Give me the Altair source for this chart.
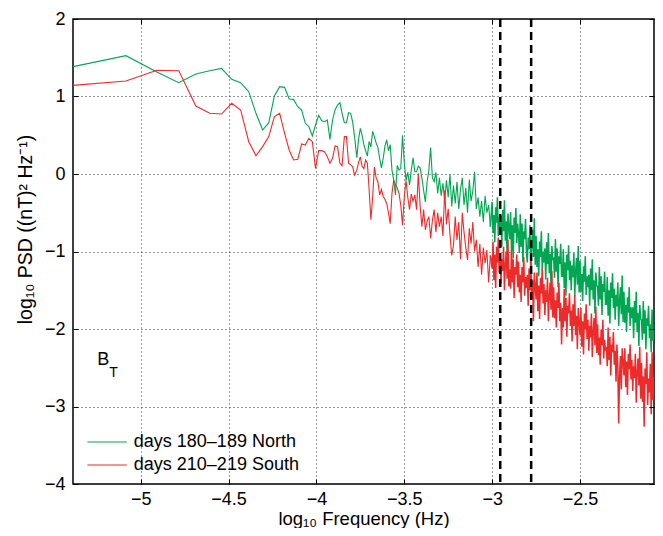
import altair as alt
import pandas as pd

# ---------------- data (log10 values) ----------------
freq_low = [-5.385, -5.084, -4.908, -4.783, -4.686, -4.607, -4.540, -4.482, -4.431, -4.385,
            -4.344, -4.306, -4.271, -4.239, -4.209, -4.181, -4.155, -4.130, -4.106, -4.084,
            -4.063, -4.043, -4.023, -4.005, -3.987, -3.970, -3.954, -3.938, -3.923, -3.908,
            -3.894, -3.880, -3.866, -3.854, -3.841, -3.829, -3.817, -3.805, -3.794, -3.783]
green_low = [1.385, 1.527, 1.316, 1.178, 1.290, 1.333, 1.363, 1.222, 1.178, 1.062,
             0.783, 0.568, 0.662, 1.007, 1.127, 1.118, 0.968, 0.963, 0.869, 0.826,
             0.654, 0.611, 0.490, 0.632, 0.757, 0.688, 0.675, 0.697, 0.447, 0.697,
             0.826, 0.890, 0.920, 0.783, 0.662, 0.662, 0.791, 0.783, 0.675, 0.482]
red_low = [1.144, 1.200, 1.338, 1.333, 0.877, 0.783, 0.774, 0.912, 0.826, 0.417,
           0.236, 0.353, 0.482, 0.740, 0.783, 0.525, 0.310, 0.181, 0.189, 0.387,
           0.374, 0.460, 0.417, 0.073, 0.301, 0.301, 0.288, 0.224, 0.138, 0.202,
           0.361, 0.353, 0.138, 0.108, 0.482, 0.482, 0.138, 0.117, 0.095, -0.013]

freq_mid = [-3.77, -3.76, -3.75, -3.74, -3.73, -3.72, -3.71, -3.70, -3.69, -3.68,
            -3.67, -3.66, -3.65, -3.64, -3.63, -3.62, -3.61, -3.60, -3.59, -3.58,
            -3.57, -3.56, -3.55, -3.54, -3.53, -3.52, -3.51, -3.50, -3.49, -3.48,
            -3.47, -3.46, -3.45, -3.44, -3.43, -3.42, -3.41, -3.40, -3.39, -3.38,
            -3.37, -3.36, -3.35, -3.34, -3.33, -3.32, -3.31, -3.30, -3.29, -3.28,
            -3.27, -3.26, -3.25, -3.24, -3.23, -3.22, -3.21, -3.20, -3.19, -3.18,
            -3.17, -3.16, -3.15, -3.14, -3.13, -3.12, -3.11, -3.10, -3.09, -3.08,
            -3.07, -3.06, -3.05, -3.04, -3.03, -3.02, -3.01]
green_mid = [0.21, 0.45, 0.59, 0.50, 0.38, 0.30, 0.23, 0.42, 0.35, 0.55,
             0.48, 0.40, 0.34, 0.20, 0.08, 0.20, 0.36, 0.44, 0.30, 0.38,
             0.05, -0.08, -0.27, 0.11, 0.05, 0.07, 0.50, 0.15, -0.08, 0.02,
             -0.14, 0.05, 0.21, 0.03, 0.03, 0.10, 0.08, -0.05, -0.21, -0.36,
             -0.10, 0.05, 0.34, -0.05, -0.10, 0.02, -0.25, -0.05, -0.28, -0.12,
             -0.35, -0.08, -0.30, 0.00, -0.42, -0.15, -0.38, -0.10, -0.45, -0.20,
             -0.05, -0.40, -0.18, -0.50, -0.07, -0.35, -0.22, 0.03, -0.45, -0.30,
             -0.55, -0.35, -0.62, -0.28, -0.50, -0.40, -0.68]
red_mid = [0.05, 0.15, 0.22, 0.10, 0.07, 0.18, 0.14, -0.20, -0.59, -0.30,
           0.09, -0.05, -0.10, -0.27, -0.20, -0.29, -0.33, -0.38, -0.50, -0.64,
           -0.25, -0.08, -0.14, -0.18, -0.25, -0.40, -0.66, -0.30, -0.08, -0.30,
           -0.46, -0.26, -0.35, -0.27, -0.46, 0.01, -0.40, -0.68, -0.46, -0.72,
           -0.61, -0.55, -0.83, -0.60, -0.46, -0.75, -0.50, -0.68, -0.55, -0.80,
           -0.21, -0.65, -0.45, -0.78, -1.05, -0.92, -0.55, -0.85, -0.62, -1.10,
           -0.50, -0.75, -0.95, -1.11, -0.70, -0.90, -0.62, -1.00, -0.85, -1.20,
           -0.90, -1.30, -0.95, -1.15, -0.98, -1.40, -1.05]

freq_high = [-3.000, -2.995, -2.990, -2.985, -2.980, -2.975, -2.970, -2.965, -2.960, -2.955,
             -2.950, -2.945, -2.940, -2.935, -2.930, -2.925, -2.920, -2.915, -2.910, -2.905,
             -2.900, -2.895, -2.890, -2.885, -2.880, -2.875, -2.870, -2.865, -2.860, -2.855,
             -2.850, -2.845, -2.840, -2.835, -2.830, -2.825, -2.820, -2.815, -2.810, -2.805,
             -2.800, -2.795, -2.790, -2.785, -2.780, -2.775, -2.770, -2.765, -2.760, -2.755,
             -2.750, -2.745, -2.740, -2.735, -2.730, -2.725, -2.720, -2.715, -2.710, -2.705,
             -2.700, -2.695, -2.690, -2.685, -2.680, -2.675, -2.670, -2.665, -2.660, -2.655,
             -2.650, -2.645, -2.640, -2.635, -2.630, -2.625, -2.620, -2.615, -2.610, -2.605,
             -2.600, -2.595, -2.590, -2.585, -2.580, -2.575, -2.570, -2.565, -2.560, -2.555,
             -2.550, -2.545, -2.540, -2.535, -2.530, -2.525, -2.520, -2.515, -2.510, -2.505,
             -2.500, -2.495, -2.490, -2.485, -2.480, -2.475, -2.470, -2.465, -2.460, -2.455,
             -2.450, -2.445, -2.440, -2.435, -2.430, -2.425, -2.420, -2.415, -2.410, -2.405,
             -2.400, -2.395, -2.390, -2.385, -2.380, -2.375, -2.370, -2.365, -2.360, -2.355,
             -2.350, -2.345, -2.340, -2.335, -2.330, -2.325, -2.320, -2.315, -2.310, -2.305,
             -2.300, -2.295, -2.290, -2.285, -2.280, -2.275, -2.270, -2.265, -2.260, -2.255,
             -2.250, -2.245, -2.240, -2.235, -2.230, -2.225, -2.220, -2.215, -2.210, -2.205,
             -2.200, -2.195, -2.190, -2.185, -2.180, -2.175, -2.170, -2.165, -2.160, -2.155,
             -2.150, -2.145, -2.140, -2.135, -2.130, -2.125, -2.120, -2.115, -2.110, -2.105,
             -2.100, -2.095, -2.090, -2.085, -2.080]
green_high = [-0.36, -0.76, -0.53, -0.88, -0.43, -0.63, -0.30, -0.80, -0.56, -0.70,
              -0.54, -0.94, -0.46, -0.74, -0.34, -0.86, -0.61, -1.04, -0.51, -0.68,
              -0.84, -0.49, -0.99, -0.66, -1.09, -0.56, -0.76, -0.44, -0.89, -0.64,
              -0.77, -1.02, -0.52, -0.94, -0.64, -1.14, -0.74, -0.84, -0.58, -1.00,
              -1.14, -0.82, -0.97, -0.66, -1.22, -0.90, -0.72, -1.07, -0.57, -1.17,
              -0.80, -1.20, -0.97, -1.32, -0.87, -1.07, -0.74, -1.24, -1.00, -1.14,
              -0.96, -1.36, -0.88, -1.16, -0.76, -1.28, -1.03, -1.46, -0.93, -1.10,
              -1.09, -1.34, -0.84, -1.26, -0.96, -1.46, -1.06, -1.16, -0.90, -1.32,
              -1.32, -0.97, -1.47, -1.14, -1.57, -1.04, -1.24, -0.92, -1.37, -1.12,
              -1.50, -1.18, -1.33, -1.02, -1.58, -1.26, -1.08, -1.43, -0.93, -1.53,
              -1.12, -1.52, -1.29, -1.64, -1.19, -1.39, -1.06, -1.56, -1.32, -1.46,
              -1.30, -1.70, -1.22, -1.50, -1.10, -1.62, -1.37, -1.80, -1.27, -1.44,
              -1.45, -1.70, -1.20, -1.62, -1.32, -1.82, -1.42, -1.52, -1.26, -1.68,
              -1.68, -1.33, -1.83, -1.50, -1.93, -1.40, -1.60, -1.28, -1.73, -1.48,
              -1.88, -1.56, -1.71, -1.40, -1.96, -1.64, -1.46, -1.81, -1.31, -1.91,
              -1.52, -1.92, -1.69, -2.04, -1.59, -1.79, -1.46, -1.96, -1.72, -1.86,
              -1.72, -2.12, -1.64, -1.92, -1.52, -2.04, -1.79, -2.22, -1.69, -1.86,
              -1.89, -2.14, -1.64, -2.06, -1.76, -2.26, -1.86, -1.96, -1.70, -2.12,
              -1.94, -2.30, -1.75, -2.15, -2.02]
red_high = [-1.22, -0.87, -1.37, -1.04, -1.47, -0.94, -1.14, -0.82, -1.27, -1.02,
            -1.42, -1.10, -1.25, -0.94, -1.50, -1.18, -1.00, -1.35, -0.85, -1.45,
            -1.23, -1.48, -0.98, -1.40, -1.10, -1.60, -1.20, -1.30, -1.04, -1.46,
            -1.13, -1.53, -1.30, -1.65, -1.20, -1.40, -1.07, -1.57, -1.33, -1.47,
            -1.30, -1.70, -1.22, -1.50, -1.10, -1.62, -1.37, -1.90, -1.27, -1.44,
            -1.62, -1.27, -1.77, -1.44, -1.87, -1.34, -1.54, -1.22, -1.67, -1.42,
            -1.82, -1.50, -1.65, -1.34, -1.90, -1.58, -1.40, -1.75, -1.25, -1.85,
            -1.46, -1.86, -1.63, -1.98, -1.53, -1.73, -1.40, -1.90, -1.66, -2.20,
            -1.73, -1.98, -1.48, -1.90, -1.60, -2.10, -1.70, -1.80, -1.54, -1.96,
            -1.76, -2.16, -1.68, -1.96, -1.56, -2.08, -1.83, -2.26, -1.73, -1.90,
            -2.08, -1.73, -2.23, -1.90, -2.33, -1.80, -2.00, -1.68, -2.13, -1.88,
            -2.28, -1.96, -2.11, -1.80, -2.36, -2.04, -1.86, -2.21, -1.71, -2.31,
            -1.94, -2.34, -2.11, -2.46, -2.01, -2.21, -1.88, -2.38, -2.14, -2.28,
            -2.23, -2.48, -1.98, -2.40, -2.10, -2.60, -2.20, -2.30, -2.04, -2.46,
            -2.28, -2.68, -2.20, -2.48, -3.22, -2.60, -2.35, -2.78, -2.25, -2.42,
            -2.60, -2.25, -2.75, -2.42, -2.85, -2.32, -2.52, -2.20, -2.65, -2.40,
            -2.80, -2.48, -2.63, -2.32, -2.95, -2.56, -2.38, -2.73, -2.23, -2.90,
            -2.44, -2.94, -2.61, -3.26, -2.51, -2.71, -2.30, -2.98, -2.64, -2.82,
            -2.45, -3.10, -2.30, -2.92, -2.62]

cutoff_freqs = [-2.954, -2.778]
x_ticks = [-5, -4.5, -4, -3.5, -3, -2.5]
y_ticks = [-4, -3, -2, -1, 0, 1, 2]
series_names = ["days 180\u2013189 North", "days 210\u2013219 South"]
series_colors = ["#00A651", "#EE2B2B"]

# legend / annotation anchors (data coordinates)
legend_x0, legend_x1, legend_text_x = -5.303, -5.079, -5.039
legend_y = [-3.458, -3.755]
label_x, label_y = -5.247, -2.465

# ---------------- chart ----------------
FONT = "Liberation Sans"
W, H = 581, 465
xs = alt.Scale(domain=[-5.385, -2.079], nice=False, zero=False)
ys = alt.Scale(domain=[-4, 2], nice=False, zero=False)

# low/mid part drawn thin; the dense high-frequency part slightly heavier (it is a
# tightly packed band of spikes in the reference).  The high part starts at the last
# mid point so the two pieces join.
freq_lm = freq_low + freq_mid
df_g_lm = pd.DataFrame({"f": freq_lm, "psd": green_low + green_mid})
df_r_lm = pd.DataFrame({"f": freq_lm, "psd": red_low + red_mid})
df_g_h = pd.DataFrame({"f": freq_mid[-1:] + freq_high, "psd": green_mid[-1:] + green_high})
df_r_h = pd.DataFrame({"f": freq_mid[-1:] + freq_high, "psd": red_mid[-1:] + red_high})

common = dict(labelFont=FONT, labelFontSize=18, labelColor="black",
              titleFont=FONT, titleFontWeight="normal", titleColor="black")
grid = dict(grid=True, gridColor="#333333", gridDash=[1, 3], gridWidth=1)

x_main = alt.Axis(values=x_ticks, format="~g", title="log\u2081\u2080 Frequency (Hz)", ticks=False,
                  domain=False, labelPadding=6, titlePadding=1, titleFontSize=18.5,
                  labelFlush=False, **grid, **common)
y_main = alt.Axis(values=y_ticks, title="log\u2081\u2080 PSD ((nT)\u00b2 Hz\u207b\u00b9)", ticks=False,
                  domain=False, labelPadding=8, titlePadding=9, titleFontSize=19.5, titleY=210,
                  **grid, **common)

tick_kw = dict(labels=False, grid=False, domain=False, ticks=True, tickSize=5,
               tickColor="black", tickWidth=1, title="", zindex=1)
x_in_bottom = alt.Axis(orient="top", offset=-H, values=x_ticks, **tick_kw)
y_in_left = alt.Axis(orient="right", offset=-W, values=y_ticks, **tick_kw)
x_in_top = alt.Axis(orient="bottom", offset=-H, values=x_ticks, **tick_kw)
y_in_right = alt.Axis(orient="left", offset=-W, values=y_ticks, **tick_kw)

green = alt.Chart(df_g_lm).mark_line(color=series_colors[0], strokeWidth=1.1, clip=True).encode(
    x=alt.X("f:Q", scale=xs, axis=x_main),
    y=alt.Y("psd:Q", scale=ys, axis=y_main),
)
green_h = alt.Chart(df_g_h).mark_line(color=series_colors[0], strokeWidth=1.5, clip=True).encode(
    x=alt.X("f:Q", scale=xs, axis=None),
    y=alt.Y("psd:Q", scale=ys, axis=None),
)
red = alt.Chart(df_r_lm).mark_line(color=series_colors[1], strokeWidth=1.1, clip=True).encode(
    x=alt.X("f:Q", scale=xs, axis=x_in_bottom),
    y=alt.Y("psd:Q", scale=ys, axis=y_in_left),
)
red_h = alt.Chart(df_r_h).mark_line(color=series_colors[1], strokeWidth=1.5, clip=True).encode(
    x=alt.X("f:Q", scale=xs, axis=None),
    y=alt.Y("psd:Q", scale=ys, axis=None),
)
dashes = alt.Chart(pd.DataFrame({"f": cutoff_freqs})).mark_rule(
    color="black", strokeWidth=2.5, strokeDash=[8, 5]).encode(
    x=alt.X("f:Q", scale=xs, axis=None),
)

leg_df = pd.DataFrame({"x0": [legend_x0] * 2, "x1": [legend_x1] * 2, "y": legend_y,
                       "tx": [legend_text_x] * 2, "name": series_names})
leg_lines = alt.Chart(leg_df).mark_rule(strokeWidth=1).encode(
    x=alt.X("x0:Q", scale=xs, axis=x_in_top),
    x2="x1:Q",
    y=alt.Y("y:Q", scale=ys, axis=y_in_right),
    color=alt.Color("name:N", scale=alt.Scale(domain=series_names, range=series_colors), legend=None),
)
leg_text = alt.Chart(leg_df).mark_text(align="left", baseline="middle", font=FONT,
                                       fontSize=18, color="black").encode(
    x=alt.X("tx:Q", scale=xs, axis=None),
    y=alt.Y("y:Q", scale=ys, axis=None),
    text="name:N",
)
lab_df = pd.DataFrame({"x": [label_x], "y": [label_y], "b": ["B"], "t": ["T"]})
lab_b = alt.Chart(lab_df).mark_text(align="left", baseline="alphabetic", font=FONT,
                                    fontSize=18, color="black").encode(
    x=alt.X("x:Q", scale=xs, axis=None), y=alt.Y("y:Q", scale=ys, axis=None), text="b:N")
lab_t = alt.Chart(lab_df).mark_text(align="left", baseline="alphabetic", font=FONT,
                                    fontSize=14, color="black", dx=12, dy=12).encode(
    x=alt.X("x:Q", scale=xs, axis=None), y=alt.Y("y:Q", scale=ys, axis=None), text="t:N")

chart = alt.layer(green, green_h, red, red_h, dashes, leg_lines, leg_text, lab_b, lab_t).resolve_axis(
    x="independent", y="independent"
).properties(
    width=W, height=H,
    padding={"left": 65, "top": 11, "right": 1, "bottom": 44},
    autosize=alt.AutoSizeParams(type="none"),
    background="white",
).configure_view(stroke="black", strokeWidth=1.5)

chart.save("out.html", embed_options={"renderer": "svg", "actions": False})
